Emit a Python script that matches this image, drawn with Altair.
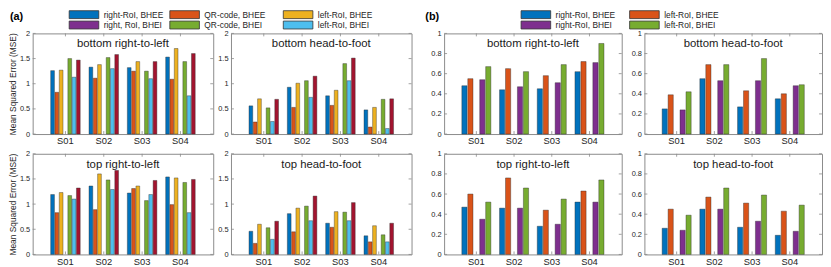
import altair as alt
import pandas as pd

# ---------------- data ----------------
SUBJECTS = ["S01", "S02", "S03", "S04"]

# (a) bar slots (MATLAB colour order); the 4th slot carries no bars, the 7th is not in the legend
A_SLOTS = ["right-RoI, BHEE", "QR-code, BHEE", "left-RoI, BHEE",
           "right, RoI, BHEI", "QR-code, BHEI", "left-RoI, BHEI", "extra"]
A_BARS = ["right-RoI, BHEE", "QR-code, BHEE", "left-RoI, BHEE",
          "QR-code, BHEI", "left-RoI, BHEI", "extra"]
A_LEGEND = A_SLOTS[:6]

a_bottom_rl = [
    [1.26, 1.33, 1.32, 1.53],
    [0.83, 1.11, 1.25, 1.09],
    [1.27, 1.38, 1.44, 1.70],
    [1.50, 1.52, 1.25, 1.44],
    [1.13, 1.30, 1.10, 0.76],
    [1.47, 1.58, 1.44, 1.60],
]
a_bottom_hf = [
    [0.56, 0.93, 0.76, 0.48],
    [0.24, 0.53, 0.57, 0.14],
    [0.70, 1.01, 0.87, 0.53],
    [0.52, 1.06, 1.40, 0.69],
    [0.25, 0.73, 1.06, 0.11],
    [0.69, 1.15, 1.51, 0.70],
]
a_top_rl = [
    [1.19, 1.36, 1.22, 1.54],
    [0.83, 0.89, 1.31, 0.99],
    [1.23, 1.60, 1.36, 1.52],
    [1.17, 1.48, 1.07, 1.43],
    [1.10, 1.29, 1.19, 0.83],
    [1.32, 1.67, 1.47, 1.49],
]
a_top_hf = [
    [0.46, 0.81, 0.62, 0.37],
    [0.22, 0.45, 0.54, 0.25],
    [0.60, 0.92, 0.85, 0.57],
    [0.53, 0.96, 0.84, 0.39],
    [0.30, 0.67, 0.67, 0.25],
    [0.66, 1.16, 1.03, 0.62],
]

# (b) bar slots; the 3rd slot carries no bars
B_SLOTS = ["right-RoI, BHEE", "left-RoI, BHEE", "empty", "right-RoI, BHEI", "left-RoI, BHEI"]
B_BARS = ["right-RoI, BHEE", "left-RoI, BHEE", "right-RoI, BHEI", "left-RoI, BHEI"]
B_LEGEND = B_BARS

b_bottom_rl = [
    [0.48, 0.44, 0.45, 0.62],
    [0.55, 0.65, 0.58, 0.72],
    [0.54, 0.47, 0.51, 0.71],
    [0.67, 0.62, 0.69, 0.90],
]
b_bottom_hf = [
    [0.25, 0.55, 0.27, 0.35],
    [0.39, 0.69, 0.43, 0.40],
    [0.24, 0.53, 0.53, 0.48],
    [0.42, 0.69, 0.75, 0.49],
]
b_top_rl = [
    [0.47, 0.46, 0.28, 0.52],
    [0.60, 0.76, 0.44, 0.63],
    [0.35, 0.46, 0.30, 0.52],
    [0.52, 0.66, 0.55, 0.74],
]
b_top_hf = [
    [0.26, 0.45, 0.27, 0.19],
    [0.45, 0.57, 0.51, 0.43],
    [0.24, 0.45, 0.33, 0.23],
    [0.39, 0.66, 0.59, 0.49],
]

A_YTICKS = [0, 0.5, 1, 1.5, 2]
B_YTICKS = [0, 0.2, 0.4, 0.6, 0.8, 1]

# ---------------- style ----------------
A_COLORS = ["#0072BD", "#D95319", "#EDB120", "#7E2F8E", "#77AC30", "#4DBEEE", "#A2142F"]
B_COLORS = ["#0072BD", "#D95319", "#EDB120", "#7E2F8E", "#77AC30"]
FONT = "Liberation Sans"
TXT = "#262626"
FRAME = "#8a8a8a"
H = 102
A_W = 183
B_W = 180
YTITLE = "Mean Squared Error (MSE)"


def legend_layers(names, slots, colors, col_x, row_y, ncols):
    cmap = dict(zip(slots, colors))
    layers = []
    for i, name in enumerate(names):
        x0 = col_x[i % ncols]
        yc = row_y[i // ncols]
        d = pd.DataFrame({"name": [name]})
        layers.append(
            alt.Chart(d).mark_rect(stroke="#333333", strokeWidth=0.8).encode(
                x=alt.value(x0), x2=alt.value(x0 + 30),
                y=alt.value(yc - 4), y2=alt.value(yc + 4),
                color=alt.value(cmap[name]))
        )
        layers.append(
            alt.Chart(d).mark_text(align="left", baseline="middle", fontSize=8.5,
                                   color=TXT, font=FONT).encode(
                text="name:N", x=alt.value(x0 + 35), y=alt.value(yc))
        )
    return layers


def panel(values, bar_names, slots, colors, ymax, yticks, title, width,
          ytitle=False, extra=None):
    rows = []
    for name, vals in zip(bar_names, values):
        for s, v in zip(SUBJECTS, vals):
            rows.append({"Subject": s, "Series": name, "MSE": v})
    df = pd.DataFrame(rows)

    xenc = alt.X("Subject:N", sort=SUBJECTS,
                 scale=alt.Scale(domain=SUBJECTS, paddingInner=0.23, paddingOuter=0.47),
                 axis=alt.Axis(title=None, labelAngle=0, labelPadding=2, labelFontSize=9.5,
                               labelColor=TXT, ticks=False, domain=False, grid=False))
    ykw = dict(values=yticks, format="~g", labelFontSize=7.5, labelPadding=3,
               ticks=False, domain=False, grid=False, labelColor=TXT)
    if ytitle:
        yaxis = alt.Axis(title=YTITLE, titleFontSize=8.5, titleFontWeight="normal",
                         titlePadding=2, titleColor=TXT, **ykw)
    else:
        yaxis = alt.Axis(title=None, **ykw)
    yenc = alt.Y("MSE:Q", scale=alt.Scale(domain=[0, ymax], nice=False, zero=True), axis=yaxis)

    bars = alt.Chart(df).mark_bar(stroke="#2b2b2b", strokeWidth=0.5, strokeOpacity=0.8).encode(
        x=xenc,
        xOffset=alt.XOffset("Series:N", scale=alt.Scale(domain=slots, paddingInner=0.13,
                                                        paddingOuter=0)),
        y=yenc,
        color=alt.Color("Series:N", scale=alt.Scale(domain=slots, range=colors), legend=None),
    )
    tick_df = pd.DataFrame({"MSE": yticks})
    ytl = alt.Chart(tick_df).mark_rule(color=FRAME, strokeWidth=0.8).encode(
        y=yenc, x=alt.value(0), x2=alt.value(3))
    ytr = alt.Chart(tick_df).mark_rule(color=FRAME, strokeWidth=0.8).encode(
        y=yenc, x=alt.value(width - 3), x2=alt.value(width))
    sub_df = pd.DataFrame({"Subject": SUBJECTS})
    xtb = alt.Chart(sub_df).mark_rule(color=FRAME, strokeWidth=0.8).encode(
        x=xenc, y=alt.value(H), y2=alt.value(H - 3))
    xtt = alt.Chart(sub_df).mark_rule(color=FRAME, strokeWidth=0.8).encode(
        x=xenc, y=alt.value(0), y2=alt.value(3))
    ttl = alt.Chart(pd.DataFrame({"t": [title]})).mark_text(
        fontSize=11.5, color="#1a1a1a", font=FONT).encode(
        text="t:N", x=alt.value(width / 2), y=alt.value(11))
    layers = [bars, ytl, ytr, xtb, xtt, ttl]
    if extra:
        layers += extra
    return alt.layer(*layers).properties(width=width, height=H)


def tag(label, x):
    return alt.Chart(pd.DataFrame({"t": [label]})).mark_text(
        align="left", baseline="top", fontSize=11, fontWeight="bold",
        color="#000000", font=FONT).encode(text="t:N", x=alt.value(x), y=alt.value(-23))


LEG_ROWS = [-19, -8.5]
a_extra = [tag("(a)", -23)] + legend_layers(A_LEGEND, A_SLOTS, A_COLORS, [37, 139, 254], LEG_ROWS, 3)
b_extra = [tag("(b)", -19)] + legend_layers(B_LEGEND, B_SLOTS, B_COLORS, [78, 188], LEG_ROWS, 2)

A1 = panel(a_bottom_rl, A_BARS, A_SLOTS, A_COLORS, 2, A_YTICKS, "bottom right-to-left", A_W,
           ytitle=True, extra=a_extra)
A2 = panel(a_bottom_hf, A_BARS, A_SLOTS, A_COLORS, 2, A_YTICKS, "bottom head-to-foot", A_W)
A3 = panel(a_top_rl, A_BARS, A_SLOTS, A_COLORS, 2, A_YTICKS, "top right-to-left", A_W, ytitle=True)
A4 = panel(a_top_hf, A_BARS, A_SLOTS, A_COLORS, 2, A_YTICKS, "top head-to-foot", A_W)

B1 = panel(b_bottom_rl, B_BARS, B_SLOTS, B_COLORS, 1, B_YTICKS, "bottom right-to-left", B_W,
           extra=b_extra)
B2 = panel(b_bottom_hf, B_BARS, B_SLOTS, B_COLORS, 1, B_YTICKS, "bottom head-to-foot", B_W)
B3 = panel(b_top_rl, B_BARS, B_SLOTS, B_COLORS, 1, B_YTICKS, "top right-to-left", B_W)
B4 = panel(b_top_hf, B_BARS, B_SLOTS, B_COLORS, 1, B_YTICKS, "top head-to-foot", B_W)

RES = dict(color="independent", xOffset="independent", x="independent", y="independent")

group_a = alt.concat(A1, A2, A3, A4, columns=2, spacing={"row": 20, "column": 18},
                     bounds="flush").resolve_scale(**RES)
group_b = alt.concat(B1, B2, B3, B4, columns=2, spacing={"row": 20, "column": 23},
                     bounds="flush").resolve_scale(**RES)

chart = (
    alt.hconcat(group_a, group_b, spacing=12)
    .resolve_scale(**RES)
    .properties(padding=0)
    .configure(font=FONT)
    .configure_view(stroke=FRAME, strokeWidth=1)
)

chart.save("out.html", embed_options={"renderer": "svg", "actions": False})
